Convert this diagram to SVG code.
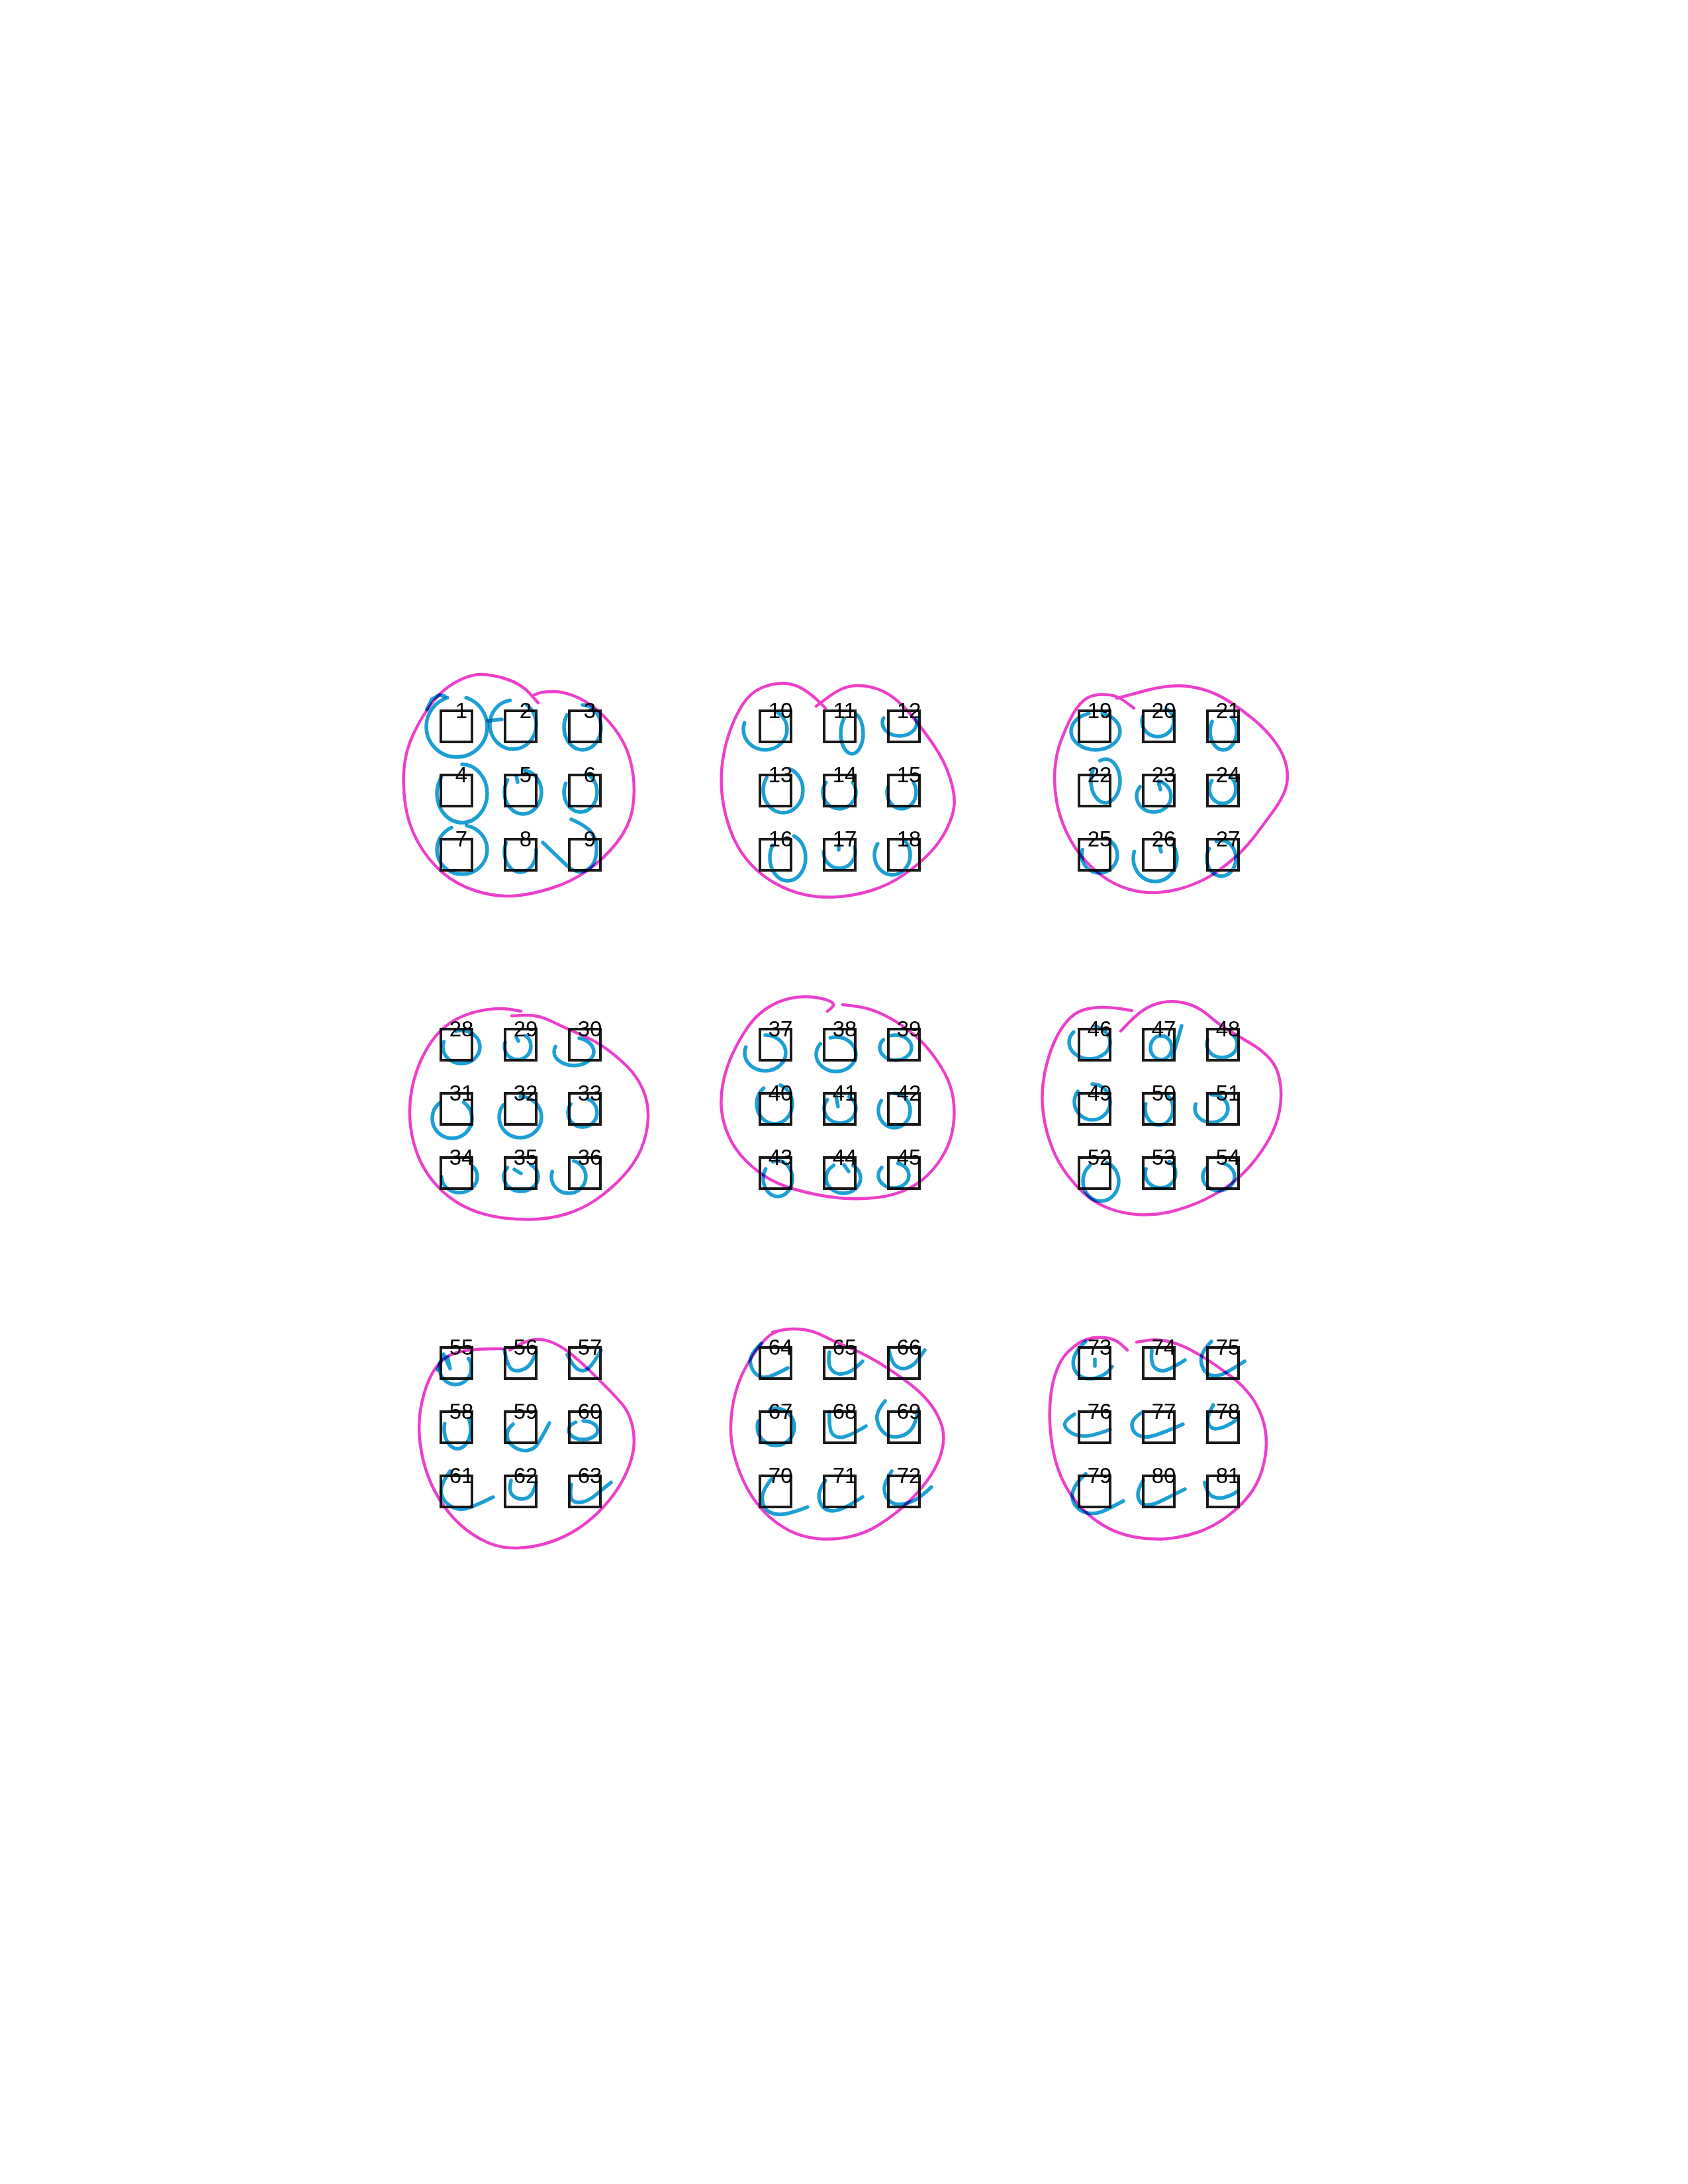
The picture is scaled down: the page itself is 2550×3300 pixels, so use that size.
<svg xmlns="http://www.w3.org/2000/svg" width="2550" height="3300" viewBox="0 0 2550 3300">
<style>
.sq{fill:none;stroke:#1a1a1a;stroke-width:4}
.lb{font-family:"Liberation Sans",Arial,sans-serif;font-size:33px;text-anchor:middle;fill:#000}
.mg{fill:none;stroke:#ec3fcb;stroke-width:4.5;stroke-linejoin:round;stroke-linecap:round;mix-blend-mode:multiply}
.cy{fill:none;stroke:#1c9fd5;stroke-width:5.5;stroke-linejoin:round;stroke-linecap:round;mix-blend-mode:multiply}
</style>
<rect x="0" y="0" width="2550" height="3300" fill="#fff"/>
<g id="nodes">
<g id="cluster1" transform="translate(664,1072)">
<g id="n1"><rect class="sq" x="2" y="2" width="47" height="47"/><text class="lb" x="33" y="13">1</text></g>
<g id="n2"><rect class="sq" x="99" y="2" width="47" height="47"/><text class="lb" x="130" y="13">2</text></g>
<g id="n3"><rect class="sq" x="196" y="2" width="47" height="47"/><text class="lb" x="227" y="13">3</text></g>
<g id="n4"><rect class="sq" x="2" y="99" width="47" height="47"/><text class="lb" x="33" y="110">4</text></g>
<g id="n5"><rect class="sq" x="99" y="99" width="47" height="47"/><text class="lb" x="130" y="110">5</text></g>
<g id="n6"><rect class="sq" x="196" y="99" width="47" height="47"/><text class="lb" x="227" y="110">6</text></g>
<g id="n7"><rect class="sq" x="2" y="196" width="47" height="47"/><text class="lb" x="33" y="207">7</text></g>
<g id="n8"><rect class="sq" x="99" y="196" width="47" height="47"/><text class="lb" x="130" y="207">8</text></g>
<g id="n9"><rect class="sq" x="196" y="196" width="47" height="47"/><text class="lb" x="227" y="207">9</text></g>
</g>
<g id="cluster2" transform="translate(1146,1072)">
<g id="n10"><rect class="sq" x="2" y="2" width="47" height="47"/><text class="lb" x="33" y="13">10</text></g>
<g id="n11"><rect class="sq" x="99" y="2" width="47" height="47"/><text class="lb" x="130" y="13">11</text></g>
<g id="n12"><rect class="sq" x="196" y="2" width="47" height="47"/><text class="lb" x="227" y="13">12</text></g>
<g id="n13"><rect class="sq" x="2" y="99" width="47" height="47"/><text class="lb" x="33" y="110">13</text></g>
<g id="n14"><rect class="sq" x="99" y="99" width="47" height="47"/><text class="lb" x="130" y="110">14</text></g>
<g id="n15"><rect class="sq" x="196" y="99" width="47" height="47"/><text class="lb" x="227" y="110">15</text></g>
<g id="n16"><rect class="sq" x="2" y="196" width="47" height="47"/><text class="lb" x="33" y="207">16</text></g>
<g id="n17"><rect class="sq" x="99" y="196" width="47" height="47"/><text class="lb" x="130" y="207">17</text></g>
<g id="n18"><rect class="sq" x="196" y="196" width="47" height="47"/><text class="lb" x="227" y="207">18</text></g>
</g>
<g id="cluster3" transform="translate(1628,1072)">
<g id="n19"><rect class="sq" x="2" y="2" width="47" height="47"/><text class="lb" x="33" y="13">19</text></g>
<g id="n20"><rect class="sq" x="99" y="2" width="47" height="47"/><text class="lb" x="130" y="13">20</text></g>
<g id="n21"><rect class="sq" x="196" y="2" width="47" height="47"/><text class="lb" x="227" y="13">21</text></g>
<g id="n22"><rect class="sq" x="2" y="99" width="47" height="47"/><text class="lb" x="33" y="110">22</text></g>
<g id="n23"><rect class="sq" x="99" y="99" width="47" height="47"/><text class="lb" x="130" y="110">23</text></g>
<g id="n24"><rect class="sq" x="196" y="99" width="47" height="47"/><text class="lb" x="227" y="110">24</text></g>
<g id="n25"><rect class="sq" x="2" y="196" width="47" height="47"/><text class="lb" x="33" y="207">25</text></g>
<g id="n26"><rect class="sq" x="99" y="196" width="47" height="47"/><text class="lb" x="130" y="207">26</text></g>
<g id="n27"><rect class="sq" x="196" y="196" width="47" height="47"/><text class="lb" x="227" y="207">27</text></g>
</g>
<g id="cluster4" transform="translate(664,1553)">
<g id="n28"><rect class="sq" x="2" y="2" width="47" height="47"/><text class="lb" x="33" y="13">28</text></g>
<g id="n29"><rect class="sq" x="99" y="2" width="47" height="47"/><text class="lb" x="130" y="13">29</text></g>
<g id="n30"><rect class="sq" x="196" y="2" width="47" height="47"/><text class="lb" x="227" y="13">30</text></g>
<g id="n31"><rect class="sq" x="2" y="99" width="47" height="47"/><text class="lb" x="33" y="110">31</text></g>
<g id="n32"><rect class="sq" x="99" y="99" width="47" height="47"/><text class="lb" x="130" y="110">32</text></g>
<g id="n33"><rect class="sq" x="196" y="99" width="47" height="47"/><text class="lb" x="227" y="110">33</text></g>
<g id="n34"><rect class="sq" x="2" y="196" width="47" height="47"/><text class="lb" x="33" y="207">34</text></g>
<g id="n35"><rect class="sq" x="99" y="196" width="47" height="47"/><text class="lb" x="130" y="207">35</text></g>
<g id="n36"><rect class="sq" x="196" y="196" width="47" height="47"/><text class="lb" x="227" y="207">36</text></g>
</g>
<g id="cluster5" transform="translate(1146,1553)">
<g id="n37"><rect class="sq" x="2" y="2" width="47" height="47"/><text class="lb" x="33" y="13">37</text></g>
<g id="n38"><rect class="sq" x="99" y="2" width="47" height="47"/><text class="lb" x="130" y="13">38</text></g>
<g id="n39"><rect class="sq" x="196" y="2" width="47" height="47"/><text class="lb" x="227" y="13">39</text></g>
<g id="n40"><rect class="sq" x="2" y="99" width="47" height="47"/><text class="lb" x="33" y="110">40</text></g>
<g id="n41"><rect class="sq" x="99" y="99" width="47" height="47"/><text class="lb" x="130" y="110">41</text></g>
<g id="n42"><rect class="sq" x="196" y="99" width="47" height="47"/><text class="lb" x="227" y="110">42</text></g>
<g id="n43"><rect class="sq" x="2" y="196" width="47" height="47"/><text class="lb" x="33" y="207">43</text></g>
<g id="n44"><rect class="sq" x="99" y="196" width="47" height="47"/><text class="lb" x="130" y="207">44</text></g>
<g id="n45"><rect class="sq" x="196" y="196" width="47" height="47"/><text class="lb" x="227" y="207">45</text></g>
</g>
<g id="cluster6" transform="translate(1628,1553)">
<g id="n46"><rect class="sq" x="2" y="2" width="47" height="47"/><text class="lb" x="33" y="13">46</text></g>
<g id="n47"><rect class="sq" x="99" y="2" width="47" height="47"/><text class="lb" x="130" y="13">47</text></g>
<g id="n48"><rect class="sq" x="196" y="2" width="47" height="47"/><text class="lb" x="227" y="13">48</text></g>
<g id="n49"><rect class="sq" x="2" y="99" width="47" height="47"/><text class="lb" x="33" y="110">49</text></g>
<g id="n50"><rect class="sq" x="99" y="99" width="47" height="47"/><text class="lb" x="130" y="110">50</text></g>
<g id="n51"><rect class="sq" x="196" y="99" width="47" height="47"/><text class="lb" x="227" y="110">51</text></g>
<g id="n52"><rect class="sq" x="2" y="196" width="47" height="47"/><text class="lb" x="33" y="207">52</text></g>
<g id="n53"><rect class="sq" x="99" y="196" width="47" height="47"/><text class="lb" x="130" y="207">53</text></g>
<g id="n54"><rect class="sq" x="196" y="196" width="47" height="47"/><text class="lb" x="227" y="207">54</text></g>
</g>
<g id="cluster7" transform="translate(664,2034)">
<g id="n55"><rect class="sq" x="2" y="2" width="47" height="47"/><text class="lb" x="33" y="13">55</text></g>
<g id="n56"><rect class="sq" x="99" y="2" width="47" height="47"/><text class="lb" x="130" y="13">56</text></g>
<g id="n57"><rect class="sq" x="196" y="2" width="47" height="47"/><text class="lb" x="227" y="13">57</text></g>
<g id="n58"><rect class="sq" x="2" y="99" width="47" height="47"/><text class="lb" x="33" y="110">58</text></g>
<g id="n59"><rect class="sq" x="99" y="99" width="47" height="47"/><text class="lb" x="130" y="110">59</text></g>
<g id="n60"><rect class="sq" x="196" y="99" width="47" height="47"/><text class="lb" x="227" y="110">60</text></g>
<g id="n61"><rect class="sq" x="2" y="196" width="47" height="47"/><text class="lb" x="33" y="207">61</text></g>
<g id="n62"><rect class="sq" x="99" y="196" width="47" height="47"/><text class="lb" x="130" y="207">62</text></g>
<g id="n63"><rect class="sq" x="196" y="196" width="47" height="47"/><text class="lb" x="227" y="207">63</text></g>
</g>
<g id="cluster8" transform="translate(1146,2034)">
<g id="n64"><rect class="sq" x="2" y="2" width="47" height="47"/><text class="lb" x="33" y="13">64</text></g>
<g id="n65"><rect class="sq" x="99" y="2" width="47" height="47"/><text class="lb" x="130" y="13">65</text></g>
<g id="n66"><rect class="sq" x="196" y="2" width="47" height="47"/><text class="lb" x="227" y="13">66</text></g>
<g id="n67"><rect class="sq" x="2" y="99" width="47" height="47"/><text class="lb" x="33" y="110">67</text></g>
<g id="n68"><rect class="sq" x="99" y="99" width="47" height="47"/><text class="lb" x="130" y="110">68</text></g>
<g id="n69"><rect class="sq" x="196" y="99" width="47" height="47"/><text class="lb" x="227" y="110">69</text></g>
<g id="n70"><rect class="sq" x="2" y="196" width="47" height="47"/><text class="lb" x="33" y="207">70</text></g>
<g id="n71"><rect class="sq" x="99" y="196" width="47" height="47"/><text class="lb" x="130" y="207">71</text></g>
<g id="n72"><rect class="sq" x="196" y="196" width="47" height="47"/><text class="lb" x="227" y="207">72</text></g>
</g>
<g id="cluster9" transform="translate(1628,2034)">
<g id="n73"><rect class="sq" x="2" y="2" width="47" height="47"/><text class="lb" x="33" y="13">73</text></g>
<g id="n74"><rect class="sq" x="99" y="2" width="47" height="47"/><text class="lb" x="130" y="13">74</text></g>
<g id="n75"><rect class="sq" x="196" y="2" width="47" height="47"/><text class="lb" x="227" y="13">75</text></g>
<g id="n76"><rect class="sq" x="2" y="99" width="47" height="47"/><text class="lb" x="33" y="110">76</text></g>
<g id="n77"><rect class="sq" x="99" y="99" width="47" height="47"/><text class="lb" x="130" y="110">77</text></g>
<g id="n78"><rect class="sq" x="196" y="99" width="47" height="47"/><text class="lb" x="227" y="110">78</text></g>
<g id="n79"><rect class="sq" x="2" y="196" width="47" height="47"/><text class="lb" x="33" y="207">79</text></g>
<g id="n80"><rect class="sq" x="99" y="196" width="47" height="47"/><text class="lb" x="130" y="207">80</text></g>
<g id="n81"><rect class="sq" x="196" y="196" width="47" height="47"/><text class="lb" x="227" y="207">81</text></g>
</g>
</g>
<g id="marks">
<g transform="translate(664,1072)">
<ellipse class="cy" cx="26" cy="26" rx="46" ry="46" pathLength="100" stroke-dasharray="90 10" stroke-dashoffset="20"/>
<polyline class="cy" points="-19,0 -12,-15 0,-22 8,-20"/>
<polyline class="cy" points="73,17 94,15"/>
<ellipse class="cy" cx="111" cy="23" rx="35" ry="37" pathLength="100" stroke-dasharray="88 12" stroke-dashoffset="15"/>
<ellipse class="cy" cx="216" cy="27" rx="28" ry="34" pathLength="100" stroke-dasharray="85 15" stroke-dashoffset="25"/>
<ellipse class="cy" cx="34" cy="127" rx="38" ry="44" pathLength="100" stroke-dasharray="85 15" stroke-dashoffset="25"/>
<ellipse class="cy" cx="126" cy="125" rx="28" ry="33" pathLength="100" stroke-dasharray="85 15" stroke-dashoffset="25"/>
<polyline class="cy" points="116,101 118,110"/>
<ellipse class="cy" cx="213" cy="125" rx="25" ry="30" pathLength="100" stroke-dasharray="78 22" stroke-dashoffset="20"/>
<ellipse class="cy" cx="34" cy="212" rx="38" ry="37" pathLength="100" stroke-dasharray="90 10" stroke-dashoffset="22"/>
<ellipse class="cy" cx="122" cy="215" rx="24" ry="31" pathLength="100" stroke-dasharray="60 40" stroke-dashoffset="2"/>
<path class="cy" d="M199,166 Q222,176 229,185.5 Q236,195 237,205 Q238,215 235.5,225 Q233,235 225.5,240.5 Q218,246 210,245 Q202,244 195,238 Q188,232 156,201"/>
</g>
<g transform="translate(1146,1072)">
<ellipse class="cy" cx="10" cy="30" rx="33" ry="31" pathLength="100" stroke-dasharray="70 30" stroke-dashoffset="15"/>
<ellipse class="cy" cx="141" cy="36" rx="17" ry="31" pathLength="100" stroke-dasharray="85 15" stroke-dashoffset="20"/>
<ellipse class="cy" cx="213" cy="20" rx="26" ry="20" pathLength="100" stroke-dasharray="60 40" stroke-dashoffset="5"/>
<ellipse class="cy" cx="37" cy="122" rx="30" ry="34" pathLength="100" stroke-dasharray="80 20" stroke-dashoffset="20"/>
<ellipse class="cy" cx="122" cy="125" rx="25" ry="25" pathLength="100" stroke-dasharray="70 30" stroke-dashoffset="10"/>
<ellipse class="cy" cx="216" cy="125" rx="22" ry="25" pathLength="100" stroke-dasharray="65 35" stroke-dashoffset="10"/>
<ellipse class="cy" cx="44" cy="224" rx="27" ry="35" pathLength="100" stroke-dasharray="80 20" stroke-dashoffset="20"/>
<ellipse class="cy" cx="122" cy="215" rx="24" ry="25" pathLength="100" stroke-dasharray="55 45" stroke-dashoffset="5"/>
<polyline class="cy" points="121,205 121,212"/>
<ellipse class="cy" cx="202" cy="220" rx="27" ry="30" pathLength="100" stroke-dasharray="75 25" stroke-dashoffset="15"/>
</g>
<g transform="translate(1628,1072)">
<ellipse class="cy" cx="27" cy="33" rx="37" ry="28" pathLength="100" stroke-dasharray="90 10" stroke-dashoffset="20"/>
<ellipse class="cy" cx="121" cy="18" rx="24" ry="23" pathLength="100" stroke-dasharray="70 30" stroke-dashoffset="15"/>
<ellipse class="cy" cx="220" cy="33" rx="20" ry="28" pathLength="100" stroke-dasharray="75 25" stroke-dashoffset="15"/>
<ellipse class="cy" cx="42" cy="108" rx="22" ry="33" pathLength="100" stroke-dasharray="90 10" stroke-dashoffset="30"/>
<ellipse class="cy" cx="115" cy="131" rx="26" ry="24" pathLength="100" stroke-dasharray="80 20" stroke-dashoffset="20"/>
<polyline class="cy" points="122,110 125,121"/>
<ellipse class="cy" cx="219" cy="120" rx="20" ry="22" pathLength="100" stroke-dasharray="75 25" stroke-dashoffset="15"/>
<ellipse class="cy" cx="33" cy="220" rx="27" ry="27" pathLength="100" stroke-dasharray="70 30" stroke-dashoffset="15"/>
<ellipse class="cy" cx="117" cy="225" rx="33" ry="35" pathLength="100" stroke-dasharray="65 35" stroke-dashoffset="10"/>
<polyline class="cy" points="124,207 126,215"/>
<ellipse class="cy" cx="217" cy="225" rx="22" ry="27" pathLength="100" stroke-dasharray="90 10" stroke-dashoffset="30"/>
</g>
<g transform="translate(664,1553)">
<ellipse class="cy" cx="33" cy="29" rx="28" ry="25" pathLength="100" stroke-dasharray="85 15" stroke-dashoffset="30"/>
<ellipse class="cy" cx="118" cy="28" rx="20" ry="20" pathLength="100" stroke-dasharray="70 30" stroke-dashoffset="15"/>
<polyline class="cy" points="116,14 119,20"/>
<ellipse class="cy" cx="203" cy="36" rx="30" ry="21" pathLength="100" stroke-dasharray="75 25" stroke-dashoffset="20"/>
<ellipse class="cy" cx="19" cy="137" rx="30" ry="30" pathLength="100" stroke-dasharray="80 20" stroke-dashoffset="15"/>
<ellipse class="cy" cx="122" cy="135" rx="32" ry="31" pathLength="100" stroke-dasharray="85 15" stroke-dashoffset="25"/>
<ellipse class="cy" cx="216" cy="128" rx="22" ry="22" pathLength="100" stroke-dasharray="80 20" stroke-dashoffset="20"/>
<ellipse class="cy" cx="30" cy="225" rx="27" ry="24" pathLength="100" stroke-dasharray="60 40" stroke-dashoffset="10"/>
<ellipse class="cy" cx="123" cy="225" rx="26" ry="22" pathLength="100" stroke-dasharray="75 25" stroke-dashoffset="15"/>
<polyline class="cy" points="113,214 123,220"/>
<ellipse class="cy" cx="195" cy="225" rx="26" ry="25" pathLength="100" stroke-dasharray="75 25" stroke-dashoffset="20"/>
</g>
<g transform="translate(1146,1553)">
<ellipse class="cy" cx="10" cy="38" rx="31" ry="27" pathLength="100" stroke-dasharray="80 20" stroke-dashoffset="25"/>
<ellipse class="cy" cx="117" cy="40" rx="30" ry="26" pathLength="100" stroke-dasharray="90 10" stroke-dashoffset="30"/>
<ellipse class="cy" cx="207" cy="30" rx="24" ry="19" pathLength="100" stroke-dasharray="90 10" stroke-dashoffset="30"/>
<ellipse class="cy" cx="24" cy="115" rx="27" ry="30" pathLength="100" stroke-dasharray="85 15" stroke-dashoffset="20"/>
<ellipse class="cy" cx="123" cy="122" rx="24" ry="22" pathLength="100" stroke-dasharray="75 25" stroke-dashoffset="15"/>
<polyline class="cy" points="117,104 120,119"/>
<ellipse class="cy" cx="205" cy="125" rx="24" ry="26" pathLength="100" stroke-dasharray="85 15" stroke-dashoffset="25"/>
<ellipse class="cy" cx="29" cy="228" rx="22" ry="27" pathLength="100" stroke-dasharray="90 10" stroke-dashoffset="30"/>
<ellipse class="cy" cx="128" cy="227" rx="26" ry="23" pathLength="100" stroke-dasharray="80 20" stroke-dashoffset="15"/>
<polyline class="cy" points="129,207 136,217"/>
<ellipse class="cy" cx="204" cy="223" rx="23" ry="19" pathLength="100" stroke-dasharray="80 20" stroke-dashoffset="20"/>
</g>
<g transform="translate(1628,1553)">
<ellipse class="cy" cx="18" cy="22" rx="31" ry="25" pathLength="100" stroke-dasharray="80 20" stroke-dashoffset="20"/>
<ellipse class="cy" cx="126" cy="30" rx="16" ry="18"/>
<path class="cy" d="M157,-3 Q152,15 149,25 Q146,35 143,45"/>
<ellipse class="cy" cx="218" cy="25" rx="23" ry="20" pathLength="100" stroke-dasharray="65 35" stroke-dashoffset="10"/>
<ellipse class="cy" cx="22" cy="112" rx="27" ry="27" pathLength="100" stroke-dasharray="85 15" stroke-dashoffset="25"/>
<ellipse class="cy" cx="123" cy="122" rx="21" ry="25" pathLength="100" stroke-dasharray="70 30" stroke-dashoffset="15"/>
<ellipse class="cy" cx="202" cy="122" rx="25" ry="21" pathLength="100" stroke-dasharray="80 20" stroke-dashoffset="25"/>
<ellipse class="cy" cx="35" cy="232" rx="27" ry="30" pathLength="100" stroke-dasharray="85 15" stroke-dashoffset="20"/>
<ellipse class="cy" cx="125" cy="220" rx="23" ry="22" pathLength="100" stroke-dasharray="70 30" stroke-dashoffset="15"/>
<ellipse class="cy" cx="213" cy="225" rx="24" ry="21" pathLength="100" stroke-dasharray="80 20" stroke-dashoffset="20"/>
</g>
<g transform="translate(664,2034)">
<ellipse class="cy" cx="24" cy="33" rx="24" ry="25" pathLength="100" stroke-dasharray="65 35" stroke-dashoffset="10"/>
<polyline class="cy" points="-3,36 6,12 16,34 12,16"/>
<path class="cy" d="M98,6 Q103,33 111,36 Q119,39 129,34 Q139,29 146,9"/>
<path class="cy" d="M193,13 Q203,33 211,36 Q219,39 226,32.5 Q233,26 244,6"/>
<ellipse class="cy" cx="27" cy="125" rx="20" ry="30" pathLength="100" stroke-dasharray="65 35" stroke-dashoffset="10"/>
<path class="cy" d="M111,118 Q101,126 102,136 Q103,146 113,152.5 Q123,159 133,157.5 Q143,156 148.5,147.5 Q154,139 166,116"/>
<ellipse class="cy" cx="217" cy="127" rx="22" ry="14" pathLength="100" stroke-dasharray="90 10" stroke-dashoffset="25"/>
<path class="cy" d="M16,189 Q1,209 2.5,221 Q4,233 15,240.5 Q26,248 37.5,246 Q49,244 81,228"/>
<path class="cy" d="M108,203 Q104,219 110,225 Q116,231 124.5,231 Q133,231 138,225 Q143,219 146,206"/>
<path class="cy" d="M199,209 Q196,228 201,233 Q206,238 216,235.5 Q226,233 234.5,226 Q243,219 259,206"/>
</g>
<g transform="translate(1146,2034)">
<path class="cy" d="M4,-4 Q-14,13 -12.5,24.5 Q-11,36 -3.5,42.5 Q4,49 14,46.5 Q24,44 44,33"/>
<path class="cy" d="M107,9 Q104,29 110.5,36 Q117,43 125.5,42 Q134,41 140.5,37 Q147,33 157,23"/>
<path class="cy" d="M197,6 Q201,26 209,31 Q217,36 225.5,32.5 Q234,29 239,22.5 Q244,16 251,6"/>
<ellipse class="cy" cx="26" cy="122" rx="28" ry="28" pathLength="100" stroke-dasharray="85 15" stroke-dashoffset="30"/>
<path class="cy" d="M107,99 Q106,126 111.5,132.5 Q117,139 127,137.5 Q137,136 162,121"/>
<path class="cy" d="M191,83 Q177,99 179,111 Q181,123 189,130.5 Q197,138 209,137 Q221,136 229,127.5 Q237,119 241,96"/>
<path class="cy" d="M21,199 Q4,219 5.5,232.5 Q7,246 17,251 Q27,256 40.5,253.5 Q54,251 74,243"/>
<path class="cy" d="M101,203 Q89,219 91.5,231 Q94,243 102.5,247 Q111,251 122.5,247 Q134,243 157,228"/>
<path class="cy" d="M201,189 Q189,206 190,217.5 Q191,229 199,235 Q207,241 219,238.5 Q231,236 239,231 Q247,226 261,213"/>
</g>
<g transform="translate(1628,2034)">
<path class="cy" d="M12,-7 Q-5,9 -6.5,21 Q-8,33 -1.5,40.5 Q5,48 15,49 Q25,50 35,45.5 Q45,41 52,31"/>
<polyline class="cy" points="26,20 26,30"/>
<path class="cy" d="M112,6 Q110,26 116,32 Q122,38 130.5,37 Q139,36 162,21"/>
<path class="cy" d="M202,-7 Q189,6 187,16 Q185,26 190,34.5 Q195,43 203.5,44.5 Q212,46 222,41 Q232,36 252,23"/>
<path class="cy" d="M-5,103 Q-21,113 -19.5,119.5 Q-18,126 -9.5,131 Q-1,136 10.5,136 Q22,136 49,126"/>
<path class="cy" d="M99,99 Q82,109 82,119 Q82,129 90.5,134 Q99,139 112,136 Q125,133 159,118"/>
<path class="cy" d="M205,89 Q195,106 197,114.5 Q199,123 205.5,124.5 Q212,126 223.5,121 Q235,116 242,109"/>
<path class="cy" d="M12,193 Q-5,209 -7.5,221 Q-10,233 -2.5,242 Q5,251 17,252.5 Q29,254 40.5,248.5 Q52,243 69,234"/>
<path class="cy" d="M99,203 Q89,219 91.5,229 Q94,239 103,240 Q112,241 127,233.5 Q142,226 162,216"/>
<path class="cy" d="M192,206 Q195,223 203.5,227 Q212,231 222,228.5 Q232,226 242,219"/>
</g>
</g>
<g id="cluster-outlines">
<path class="mg" transform="translate(664,1072)" d="M149,-10 L136,-24.5 Q123,-39 99.5,-46.5 Q76,-54 59.5,-53 Q43,-52 23,-40.5 Q3,-29 -12,-9 Q-27,11 -39,36 Q-51,61 -53.5,88 Q-56,115 -51.5,145 Q-47,175 -32,201.5 Q-17,228 4.5,246.5 Q26,265 54.5,274 Q83,283 108,282 Q133,281 166,271 Q199,261 224,243 Q249,225 267.5,201.5 Q286,178 291,153 Q296,128 292.5,99.5 Q289,71 277.5,49.5 Q266,28 247.5,9.5 Q229,-9 209,-18 Q189,-27 172.5,-27 Q156,-27 149.5,-24.5 L143,-22"/>
<path class="mg" transform="translate(1146,1072)" d="M87,-5 L107,-20 Q127,-35 147,-36 Q167,-37 187,-28 Q207,-19 227,4.5 Q247,28 264,53 Q281,78 289,103 Q297,128 295.5,144.5 Q294,161 284,181 Q274,201 257.5,218 Q241,235 219,250 Q197,265 172,273 Q147,281 120.5,283 Q94,285 70.5,280 Q47,275 25.5,263 Q4,251 -12.5,233 Q-29,215 -39,191.5 Q-49,168 -53.5,141.5 Q-58,115 -55.5,88 Q-53,61 -44.5,36 Q-36,11 -24.5,-7 Q-13,-25 4,-32.5 Q21,-40 37.5,-39.5 Q54,-39 67.5,-30.5 Q81,-22 91,-12 L101,-2"/>
<path class="mg" transform="translate(1628,1072)" d="M85,-2 L75,-9.5 Q65,-17 57,-20 Q49,-23 34,-22.5 Q19,-22 9,-13.5 Q-1,-5 -9.5,11.5 Q-18,28 -25.5,48 Q-33,68 -34.5,91.5 Q-36,115 -32,138 Q-28,161 -18,183 Q-8,205 5.5,221.5 Q19,238 37,251.5 Q55,265 77,271.5 Q99,278 122,276.5 Q145,275 168.5,266.5 Q192,258 208.5,246.5 Q225,235 240,221.5 Q255,208 270,188 Q285,168 297,151.5 Q309,135 314,120 Q319,105 315.5,86.5 Q312,68 298.5,49.5 Q285,31 267,16 Q249,1 229,-12 Q209,-25 187,-31 Q165,-37 143.5,-35.5 Q122,-34 100.5,-28 Q79,-22 69,-19.5 L59,-17"/>
<path class="mg" transform="translate(664,1553)" d="M109,-18 L129,-19 Q149,-20 169,-10 Q189,0 212.5,10 Q236,20 252.5,32 Q269,44 284,59 Q299,74 307.5,94 Q316,114 315,137 Q314,160 305,182 Q296,204 277.5,224 Q259,244 237.5,259 Q216,274 191,281.5 Q166,289 137.5,289.5 Q109,290 82.5,285 Q56,280 34.5,268.5 Q13,257 -4,238.5 Q-21,220 -31,197 Q-41,174 -44,147 Q-47,120 -42,93.5 Q-37,67 -25.5,43.5 Q-14,20 1,5 Q16,-10 36,-18 Q56,-26 76,-28 Q96,-30 109.5,-27.5 L123,-25"/>
<path class="mg" transform="translate(1146,1553)" d="M104,-25 L110.5,-30.5 Q117,-36 107,-40.5 Q97,-45 80.5,-46.5 Q64,-48 47.5,-44.5 Q31,-41 14,-30.5 Q-3,-20 -16,-1.5 Q-29,17 -39,38.5 Q-49,60 -53.5,82 Q-58,104 -56,124 Q-54,144 -45,164 Q-36,184 -19.5,200.5 Q-3,217 14,227 Q31,237 51,243 Q71,249 92.5,253 Q114,257 135.5,258 Q157,259 179,256.5 Q201,254 221,245.5 Q241,237 256,222 Q271,207 281,188.5 Q291,170 294,148.5 Q297,127 294,107 Q291,87 281,68.5 Q271,50 257.5,33.5 Q244,17 225.5,3 Q207,-11 187,-20.5 Q167,-30 147,-32.5 L127,-35"/>
<path class="mg" transform="translate(1628,1553)" d="M82,-26 L67,-28.5 Q52,-31 37,-31 Q22,-31 8.5,-27 Q-5,-23 -16.5,-9.5 Q-28,4 -36.5,24 Q-45,44 -50,69 Q-55,94 -53,119 Q-51,144 -43,169 Q-35,194 -21.5,214 Q-8,234 8.5,249 Q25,264 45,272 Q65,280 88.5,282 Q112,284 135.5,279 Q159,274 182,264 Q205,254 225,240.5 Q245,227 262,207 Q279,187 290.5,165.5 Q302,144 305.5,122 Q309,100 305.5,80 Q302,60 290.5,47 Q279,34 262,24 Q245,14 228.5,4 Q212,-6 198.5,-18 Q185,-30 168.5,-35.5 Q152,-41 135.5,-39.5 Q119,-38 105.5,-30.5 Q92,-23 78.5,-9 L65,5"/>
<path class="mg" transform="translate(664,2034)" d="M96,4 L79.5,4 Q63,4 44.5,6 Q26,8 12.5,15.5 Q-1,23 -11,41 Q-21,59 -26.5,84 Q-32,109 -30.5,134 Q-29,159 -21.5,184 Q-14,209 -0.5,231 Q13,253 31,269.5 Q49,286 71,296 Q93,306 118,305 Q143,304 166,296.5 Q189,289 209,276 Q229,263 247.5,243 Q266,223 277.5,201 Q289,179 292.5,159 Q296,139 291,119 Q286,99 274.5,86 Q263,73 253,63 Q243,53 229.5,39.5 Q216,26 199.5,12.5 Q183,-1 168,-6.5 Q153,-12 141,-9.5 Q129,-7 117.5,-0.5 L106,6"/>
<path class="mg" transform="translate(1146,2034)" d="M21,-21 L34,-24 Q47,-27 64,-25.5 Q81,-24 97.5,-15.5 Q114,-7 130.5,-0.5 Q147,6 164,15 Q181,24 197.5,35 Q214,46 229,57.5 Q244,69 255.5,82.5 Q267,96 274,112.5 Q281,129 279,146 Q277,163 269,179.5 Q261,196 247.5,212.5 Q234,229 217.5,243.5 Q201,258 181,270.5 Q161,283 137.5,288 Q114,293 90.5,291 Q67,289 47,279 Q27,269 10.5,252.5 Q-6,236 -17.5,214.5 Q-29,193 -36,168 Q-43,143 -42,118 Q-41,93 -35,71 Q-29,49 -19,31 Q-9,13 2.5,-1.5 Q14,-16 22,-19.5 L30,-23"/>
<path class="mg" transform="translate(1628,2034)" d="M75,6 L67,-1.5 Q59,-9 49,-11.5 Q39,-14 27,-13 Q15,-12 5,-6.5 Q-5,-1 -15,9 Q-25,19 -31.5,36 Q-38,53 -40.5,73 Q-43,93 -42,116 Q-41,139 -36,162.5 Q-31,186 -21,206 Q-11,226 4,242.5 Q19,259 39,271 Q59,283 84,288 Q109,293 134,291 Q159,289 182,281 Q205,273 225,258 Q245,243 258.5,226 Q272,209 278.5,187.5 Q285,166 285,146 Q285,126 278.5,107.5 Q272,89 260.5,74 Q249,59 234,47.5 Q219,36 202,24.5 Q185,13 168.5,4.5 Q152,-4 135.5,-7.5 Q119,-11 104,-8.5 L89,-6"/>
</g>
</svg>
